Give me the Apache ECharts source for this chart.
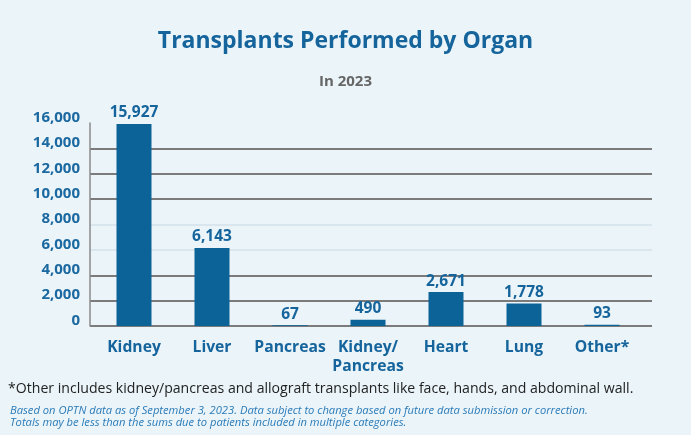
<!DOCTYPE html>
<html>
<head>
<meta charset="utf-8">
<script src="https://cdn.jsdelivr.net/npm/echarts@6/dist/echarts.min.js"></script>
<style>
html,body{margin:0;padding:0;background:#eaf4f9;}
#c{width:691px;height:435px;}
</style>
</head>
<body>
<div id="c"></div>
<script>
const categories = ['Kidney', 'Liver', 'Pancreas', 'Kidney/\nPancreas', 'Heart', 'Lung', 'Other*'];
const transplants = [15927, 6143, 67, 490, 2671, 1778, 93];
const yTicks = { min: 0, max: 16000, interval: 2000 };
const titleText = 'Transplants Performed by Organ';
const subtitleText = 'In 2023';
const footnote = '*Other includes kidney/pancreas and allograft transplants like face, hands, and abdominal wall.';
const sourceNote1 = 'Based on OPTN data as of September 3, 2023. Data subject to change based on future data submission or correction.';
const sourceNote2 = 'Totals may be less than the sums due to patients included in multiple categories.';

const F = '"Open Sans", "Noto Sans", sans-serif';
const blue = '#15649c';
const barColor = '#0c6397';
const dark = '#7b7b7b';
const light = '#d9e6ed';

const chart = echarts.init(document.getElementById('c'));
chart.setOption({
  backgroundColor: '#eaf4f9',
  animation: false,
  title: [
    { text: titleText, left: 'center', top: 25,
      textStyle: { fontFamily: F, fontSize: 23, fontWeight: 'bold', color: blue } },
    { text: subtitleText, left: 'center', top: 69,
      textStyle: { fontFamily: F, fontSize: 15, fontWeight: 'bold', color: '#666666' } }
  ],
  grid: [
    { left: 90, right: 39, top: 123, bottom: 109 },
    { left: 95, right: 50, top: 123, bottom: 109 }
  ],
  xAxis: [
    { type: 'value', gridIndex: 0, min: 0, max: 1, show: false },
    { type: 'category', gridIndex: 1, data: categories,
      axisLine: { show: false }, axisTick: { show: false },
      axisLabel: { fontFamily: F, fontSize: 15.7, fontWeight: 'bold', color: blue,
        margin: 12, lineHeight: 19, interval: 0 } }
  ],
  yAxis: [
    { type: 'value', gridIndex: 0, min: yTicks.min, max: yTicks.max, interval: yTicks.interval,
      axisLine: { show: true, lineStyle: { color: '#8a8a8a', width: 1.5 } },
      axisTick: { show: false },
      axisLabel: { fontFamily: F, fontSize: 15, fontWeight: 'bold', color: '#1b69a0', margin: 10,
        verticalAlign: 'bottom', lineHeight: 11,
        formatter: v => v.toLocaleString('en-US') },
      splitLine: { show: true, lineStyle: { width: 2,
        color: [dark, dark, dark, light, light, dark, dark, dark, 'rgba(0,0,0,0)'] } } },
    { type: 'value', gridIndex: 1, min: yTicks.min, max: yTicks.max, interval: yTicks.interval,
      show: false, splitLine: { show: false } }
  ],
  series: [{
    type: 'bar', xAxisIndex: 1, yAxisIndex: 1, data: transplants, barWidth: 35,
    itemStyle: { color: barColor },
    label: { show: true, position: 'top', distance: 3, fontFamily: F, fontSize: 15.5,
      fontWeight: 'bold', color: blue, formatter: p => p.value.toLocaleString('en-US') }
  }],
  graphic: [
    { type: 'text', left: 8, top: 382,
      style: { text: footnote, fontFamily: F, fontSize: 14.1, fill: '#222222' } },
    { type: 'text', left: 10, top: 405,
      style: { text: sourceNote1, fontFamily: F, fontSize: 11.2, fontStyle: 'italic', fill: '#2a7bb8' } },
    { type: 'text', left: 10, top: 417,
      style: { text: sourceNote2, fontFamily: F, fontSize: 11.2, fontStyle: 'italic', fill: '#2a7bb8' } }
  ]
});
</script>
</body>
</html>
